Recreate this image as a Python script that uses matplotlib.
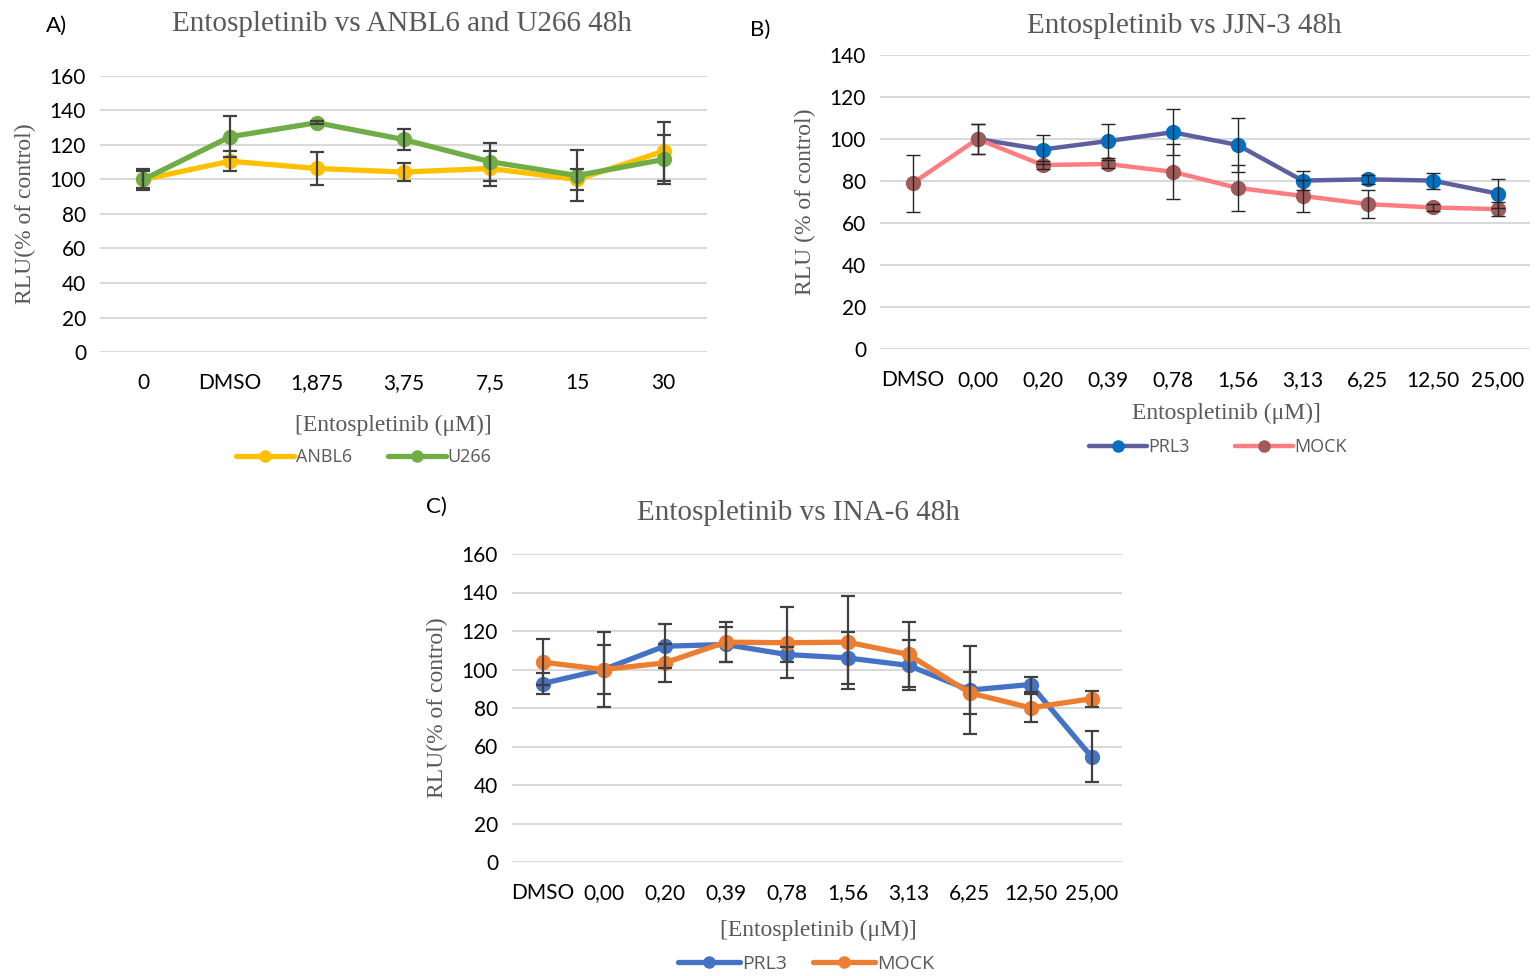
import numpy as np
import matplotlib
matplotlib.use("Agg")
import matplotlib.pyplot as plt

# panel A data
conc_a = ["0", "DMSO", "1,875", "3,75", "7,5", "15", "30"]
anbl6 = [100, 110.6, 106.4, 104.3, 106.4, 100.0, 116.4]
anbl6_err = [6, 5.8, 9.3, 5.4, 10.3, 5.8, 17]
u266 = [100, 124.8, 132.9, 123.2, 110.3, 102.3, 111.6]
u266_err = [5, 12, 1, 6, 11, 15, 14]

# panels B and C share categories
conc_bc = ["DMSO", "0,00", "0,20", "0,39", "0,78", "1,56", "3,13", "6,25", "12,50", "25,00"]

jjn_prl3 = [np.nan, 100, 95.0, 99.0, 103.2, 97.2, 80.2, 80.8, 80.2, 74.0]
jjn_prl3_err = [np.nan, 7, 7, 8, 11, 13, 4.6, 2, 3.8, 6.8]
jjn_mock = [78.9, 100, 87.6, 88.1, 84.4, 76.7, 72.9, 69.0, 67.4, 66.6]
jjn_mock_err = [13.6, 7, 2, 2, 13, 11, 7.6, 6.5, 1.5, 3.5]

ina_prl3 = [92.7, 100, 112.1, 113, 107.8, 106, 102.1, 89.3, 92.2, 54.7]
ina_prl3_err = [5.6, 12.5, 11.5, 9, 4, 13.5, 13, 22.8, 3.8, 13.1]
ina_mock = [103.8, 100, 103.4, 114.2, 113.9, 114.2, 107.8, 87.9, 80.1, 84.8]
ina_mock_err = [12, 19.4, 9.7, 10.3, 18.4, 24.2, 17, 11, 7.4, 4.2]

W, H = 1536, 976
SERIF = "Liberation Serif"
SANS = "Lato"
GREY = "#595959"

fig = plt.figure(figsize=(W / 100, H / 100), dpi=100)


def px_axes(x0, x1, ytop, ybot):
    return fig.add_axes([x0 / W, 1 - ybot / H, (x1 - x0) / W, (ybot - ytop) / H])


def ftext(x, y, s, **kw):
    # place text at reference pixel coordinates
    fig.text(x / W, 1 - y / H, s, ha=kw.pop("ha", "center"), va="center", **kw)


def style(ax, cats, ymax, ystep, ylabel):
    ax.set_xlim(-0.5, len(cats) - 0.5)
    ax.set_ylim(0, ymax)
    ax.set_yticks(np.arange(0, ymax + 1, ystep))
    ax.set_xticks(range(len(cats)))
    ax.set_xticklabels(cats)
    for s in ax.spines.values():
        s.set_visible(False)
    ax.tick_params(length=0, labelsize=15, pad=10)
    for lab in ax.get_xticklabels() + ax.get_yticklabels():
        lab.set_fontfamily(SANS)
    ax.tick_params(axis="x", pad=15)
    ax.grid(axis="y", color="#d9d9d9", lw=1.5)
    ax.set_axisbelow(True)
    ax.set_ylabel(ylabel, family=SERIF, color=GREY, fontsize=17, labelpad=10)


def series(ax, y, err, lc, mc, lw, ecol, elw, label):
    x = np.arange(len(y))
    ax.errorbar(x, y, yerr=err, fmt="none", ecolor=ecol, elinewidth=elw,
                capsize=5, capthick=elw, zorder=5)
    ax.plot(x, y, color=lc, lw=lw, marker="o", ms=10, mfc=mc, mec=mc,
            label=label, zorder=3, solid_capstyle="round")


def legend(ax, x, y, size, colsp):
    ax.legend(loc="center", bbox_to_anchor=(x / W, 1 - y / H),
              bbox_transform=fig.transFigure, ncol=2, frameon=False,
              prop={"family": "Open Sans", "size": size}, labelcolor=GREY,
              handlelength=3.2, handletextpad=0.1, columnspacing=colsp,
              markerscale=0.8)


# ---- A
axA = px_axes(100, 707, 76, 352)
series(axA, anbl6, anbl6_err, "#ffc000", "#ffc000", 3.8, "#404040", 1.6, "ANBL6")
series(axA, u266, u266_err, "#70ad47", "#70ad47", 3.8, "#404040", 1.6, "U266")
style(axA, conc_a, 160, 20, "RLU(% of control)")
ftext(402, 24, "Entospletinib vs ANBL6 and U266 48h", family=SERIF, color=GREY, fontsize=21)
ftext(393, 425, "[Entospletinib (μM)]", family=SERIF, color=GREY, fontsize=17)
legend(axA, 364, 457, 13, 2)
ftext(57, 26, "A)", family=SANS, fontsize=16)

# ---- B
axB = px_axes(880, 1530, 55, 349)
series(axB, jjn_prl3, jjn_prl3_err, "#5f5f9f", "#0070c0", 3.2, "#262626", 1.0, "PRL3")
series(axB, jjn_mock, jjn_mock_err, "#ff7c80", "#a05a5a", 3.2, "#262626", 1.0, "MOCK")
style(axB, conc_bc, 140, 20, "RLU (% of control)")
ftext(1184, 26, "Entospletinib vs JJN-3 48h", family=SERIF, color=GREY, fontsize=21)
ftext(1226, 413, "Entospletinib (μM)]", family=SERIF, color=GREY, fontsize=17)
legend(axB, 1218, 447, 13, 2.5)
ftext(760, 30, "B)", family=SANS, fontsize=16)

# ---- C
axC = px_axes(512, 1122, 554, 862)
series(axC, ina_prl3, ina_prl3_err, "#4472c4", "#4472c4", 3.8, "#404040", 1.6, "PRL3")
series(axC, ina_mock, ina_mock_err, "#ed7d31", "#ed7d31", 3.8, "#404040", 1.6, "MOCK")
style(axC, conc_bc, 160, 20, "RLU(% of control)")
ftext(798, 513, "Entospletinib vs INA-6 48h", family=SERIF, color=GREY, fontsize=21)
ftext(818, 930, "[Entospletinib (μM)]", family=SERIF, color=GREY, fontsize=17)
legend(axC, 806, 964, 14, 1.3)
ftext(436, 507, "C)", family=SANS, fontsize=16)

fig.savefig("out.png", dpi=100)
